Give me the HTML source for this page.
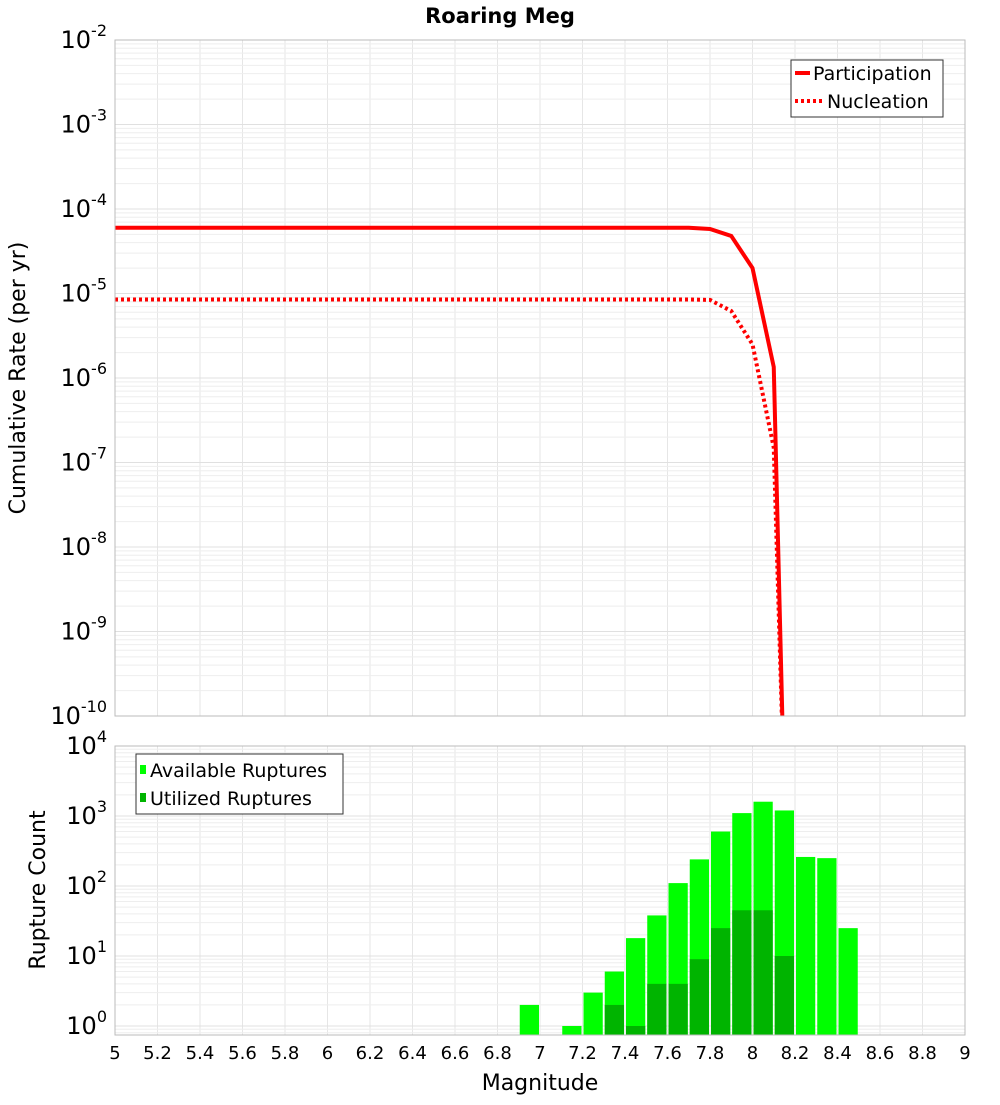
<!DOCTYPE html>
<html><head><meta charset="utf-8"><style>
body{margin:0;background:#fff;font-family:"Liberation Sans","DejaVu Sans",sans-serif;}
svg text{font-family:"DejaVu Sans","Liberation Sans",sans-serif;}
</style></head><body>
<svg id="chart" width="1000" height="1100" xmlns="http://www.w3.org/2000/svg">
<text x="500" y="23" text-anchor="middle" font-size="21" font-weight="bold">Roaring Meg</text>
<g id="topg"></g><g id="botg"></g>
</svg>
<script>
const mags=[5,5.5,6,6.5,7,7.5,7.7,7.8,7.9,8.0,8.1,8.15];
const participation=[6e-5,6e-5,6e-5,6e-5,6e-5,6e-5,6e-5,5.8e-5,4.8e-5,2e-5,1.35e-6,1e-11];
const nucleation=[8.5e-6,8.5e-6,8.5e-6,8.5e-6,8.5e-6,8.5e-6,8.5e-6,8.4e-6,6.2e-6,2.5e-6,1.5e-7,1e-11];
const binCenters=[6.95,7.15,7.25,7.35,7.45,7.55,7.65,7.75,7.85,7.95,8.05,8.15,8.25,8.35,8.45];
const available=[2,1,3,6,18,38,110,240,600,1100,1600,1200,260,250,25];
const utilized=[0,0,0,2,1,4,4,9,25,45,45,10,0,0,0];
const xTicks=[5,5.2,5.4,5.6,5.8,6,6.2,6.4,6.6,6.8,7,7.2,7.4,7.6,7.8,8,8.2,8.4,8.6,8.8,9];
const NS="http://www.w3.org/2000/svg";
const L=115,R=965;
const x=m=>L+(m-5)/4*(R-L);
const T1=40,B1=716;
const y1=v=>T1+(-2-Math.log10(v))*(B1-T1)/8;
const T2=746,B2=1035,dec2=70;
const y2=v=>T2+(4-Math.log10(v))*dec2;
function el(p,t,a){const e=document.createElementNS(NS,t);for(const k in a)e.setAttribute(k,a[k]);p.appendChild(e);return e;}
const gTop=document.getElementById('topg'),gBot=document.getElementById('botg');
function grid(g,T,B,yf,dmin,dmax){
  for(let m=5;m<=9.001;m+=0.2){const l=el(g,'line',{x1:x(m),x2:x(m),y1:T,y2:B,stroke:'#e6e6e6'});
  
  }
  for(let d=dmin;d<dmax;d++)for(let k=1;k<10;k++){const v=k*Math.pow(10,d);const yy=yf(v);if(yy<T||yy>B)continue;const l=el(g,'line',{x1:L,x2:R,y1:yy,y2:yy,stroke:k==1?'#e0e0e0':'#eeeeee'});
  
  }
}
grid(gTop,T1,B1,y1,-10,-2);
grid(gBot,T2,B2,y2,-1,4);
function powLabel(g,yy,d){const t=el(g,'text',{x:107,y:yy+8,'text-anchor':'end','font-size':24});t.appendChild(document.createTextNode('10'));const s=el(t,'tspan',{dy:-12,'font-size':16});s.textContent=String(d);

}
for(let d=-10;d<=-2;d++)powLabel(gTop,y1(Math.pow(10,d)),d);
for(let d=0;d<=4;d++)powLabel(gBot,y2(Math.pow(10,d)),d);
const defs=el(gTop,'defs',{});const cp=el(defs,'clipPath',{id:'c1'});el(cp,'rect',{x:L,y:T1,width:R-L,height:B1-T1});
const cp2=el(defs,'clipPath',{id:'c2'});el(cp2,'rect',{x:L,y:T2,width:R-L,height:B2-T2});
const pp=el(gTop,'polyline',{points:mags.map((m,i)=>x(m)+','+y1(participation[i])).join(' '),fill:'none',stroke:'#ff0000','stroke-width':4,'clip-path':'url(#c1)'});


const np=el(gTop,'polyline',{points:mags.map((m,i)=>x(m)+','+y1(nucleation[i])).join(' '),fill:'none',stroke:'#ff0000','stroke-width':4,'stroke-dasharray':'3,3','clip-path':'url(#c1)'});


el(gTop,'rect',{x:L,y:T1,width:R-L,height:B1-T1,fill:'none',stroke:'#bbb'});
const lg=el(gTop,'g',{});


el(lg,'rect',{x:791,y:60,width:152,height:57,fill:'#fff',stroke:'#333'});
el(lg,'line',{x1:795,x2:810,y1:73,y2:73,stroke:'#f00','stroke-width':4});
el(lg,'line',{x1:795,x2:823,y1:101,y2:101,stroke:'#f00','stroke-width':4,'stroke-dasharray':'3,3'});
let t=el(lg,'text',{x:813,y:80,'font-size':19});t.textContent='Participation';
t=el(lg,'text',{x:827,y:108,'font-size':19});t.textContent='Nucleation';
const bw=x(5.1)-x(5);
binCenters.forEach((c,i)=>{
  const r=el(gBot,'rect',{x:x(c)-bw/2+1,y:y2(available[i]),width:bw-2,height:B2-y2(available[i]),fill:'#00ff00','clip-path':'url(#c2)'});
  
  
  if(utilized[i]>0){const u=el(gBot,'rect',{x:x(c)-bw/2+1,y:y2(utilized[i]),width:bw-2,height:B2-y2(utilized[i]),fill:'#00b400','clip-path':'url(#c2)'});
  
  }
});
el(gBot,'rect',{x:L,y:T2,width:R-L,height:B2-T2,fill:'none',stroke:'#bbb'});
const lg2=el(gBot,'g',{});


el(lg2,'rect',{x:136,y:754,width:207,height:60,fill:'#fff',stroke:'#333'});
el(lg2,'rect',{x:140,y:765,width:6,height:9,fill:'#00ff00'});
el(lg2,'rect',{x:140,y:793,width:6,height:9,fill:'#00b400'});
t=el(lg2,'text',{x:150,y:777,'font-size':19});t.textContent='Available Ruptures';
t=el(lg2,'text',{x:150,y:805,'font-size':19});t.textContent='Utilized Ruptures';
xTicks.forEach(m=>{const tt=el(gBot,'text',{x:x(m),y:1059,'text-anchor':'middle','font-size':18});tt.textContent=String(m);

});
t=el(gBot,'text',{x:540,y:1090,'text-anchor':'middle','font-size':22});t.textContent='Magnitude';


t=el(gTop,'text',{x:0,y:0,'text-anchor':'middle','font-size':22,transform:'translate(25,378) rotate(-90)'});t.textContent='Cumulative Rate (per yr)';


t=el(gBot,'text',{x:0,y:0,'text-anchor':'middle','font-size':22,transform:'translate(45,890) rotate(-90)'});t.textContent='Rupture Count';


</script>
</body></html>
